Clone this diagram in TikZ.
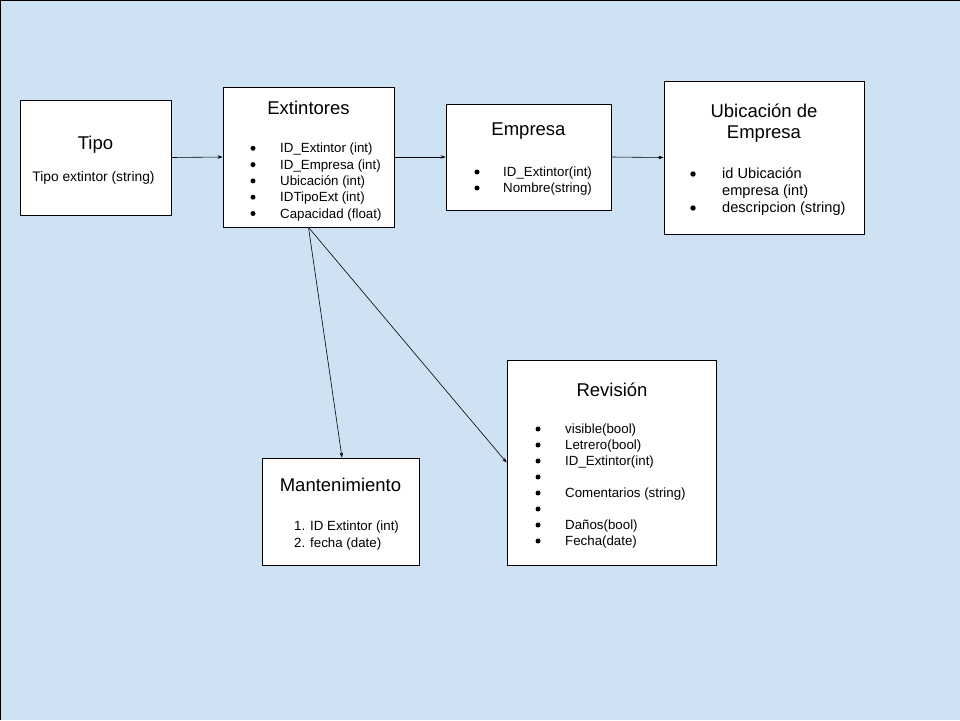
\documentclass[tikz,border=0pt]{standalone}
\usepackage{fontspec}
\setmainfont{Liberation Sans}
\usetikzlibrary{arrows.meta}

\definecolor{bgblue}{HTML}{CFE2F3}

\tikzset{
  box/.style={draw, fill=white, line width=0.8pt, inner sep=0pt},
  title/.style={font=\fontsize{18.5}{22}\selectfont, align=center},
  item/.style={font=\fontsize{13.3}{16}\selectfont, anchor=west, inner sep=0pt,
    text height=11.5pt, text depth=2.5pt},
  bigitem/.style={item, font=\fontsize{14.6}{18}\selectfont},
  link/.style={-{Stealth[length=5pt, width=3.6pt]}, line width=0.6pt}
}

\begin{document}
\begin{tikzpicture}[x=1pt, y=-1pt]

\fill[bgblue] (0,0) rectangle (960,720);
\useasboundingbox (0,0) rectangle (960,720);
\draw[line width=1.2pt] (0.6,720) -- (0.6,0.6) -- (960,0.6);

% boxes
\node[box, minimum width=151pt, minimum height=115pt] (tipo) at (95.5,157.5) {};
\node[box, minimum width=171pt, minimum height=140pt] (ext) at (308.5,157) {};
\node[box, minimum width=165pt, minimum height=106pt] (emp) at (528.5,157) {};
\node[box, minimum width=200pt, minimum height=153pt] (ubi) at (764,157.5) {};
\node[box, minimum width=157pt, minimum height=107pt] (mant) at (340.5,511.5) {};
\node[box, minimum width=209pt, minimum height=205pt] (rev) at (611.5,462.5) {};

% Tipo
\node[title] (tipoT) at (95.5,145) {Tipo};
\node[item, font=\fontsize{13.8}{17}\selectfont, anchor=center] (tipoA) at (93.5,177) {Tipo extintor (string)};

% Extintores
\node[title] (extT) at (308.5,108) {Extintores};
\foreach \txt [count=\i] in {ID\_Extintor (int), ID\_Empresa (int), Ubicación (int),
    IDTipoExt (int), Capacidad (float)} {
  \fill (253,132+16.3*\i) circle (2.5pt);
  \node[item] (ext\i) at (280,132+16.3*\i) {\txt};
}

% Empresa
\node[title] (empT) at (528.5,131) {Empresa};
\foreach \txt [count=\i] in {ID\_Extintor(int), Nombre(string)} {
  \fill (477,156+16*\i) circle (2.5pt);
  \node[item] (emp\i) at (503,156+16*\i) {\txt};
}

% Ubicacion de Empresa
\node[title, font=\fontsize{18.5}{21}\selectfont] (ubiT) at (764,123) {Ubicación de\\Empresa};
\fill (693,174) circle (2.7pt);
\fill (693,208) circle (2.7pt);
\node[bigitem] (ubi1) at (722,174) {id Ubicación};
\node[bigitem] (ubi2) at (722,191) {empresa (int)};
\node[bigitem] (ubi3) at (722,208) {descripcion (string)};

% Mantenimiento
\node[title] (mantT) at (340.5,485) {Mantenimiento};
\node[item] (mant1) at (294,526) {1. ID Extintor (int)};
\node[item] (mant2) at (294,543) {2. fecha (date)};

% Revision
\node[title] (revT) at (612,390) {Revisión};
\foreach \k in {1,...,8} {
  \fill (538,413+16*\k) circle (2.5pt);
}
\node[item] (rev1) at (565,429) {visible(bool)};
\node[item] (rev2) at (565,445) {Letrero(bool)};
\node[item] (rev3) at (565,461) {ID\_Extintor(int)};
\node[item] (rev5) at (565,493) {Comentarios (string)};
\node[item] (rev7) at (565,525) {Daños(bool)};
\node[item] (rev8) at (565,541) {Fecha(date)};

% links
\draw[link] (tipo.east) -- (ext.west);
\draw[link] (ext.east) -- (emp.west);
\draw[link] (emp.east) -- (ubi.west);
\draw[link] (ext.south) -- ([xshift=1.5pt]mant.north);
\draw[link] (ext.south) -- (rev.west);

\end{tikzpicture}
\end{document}
